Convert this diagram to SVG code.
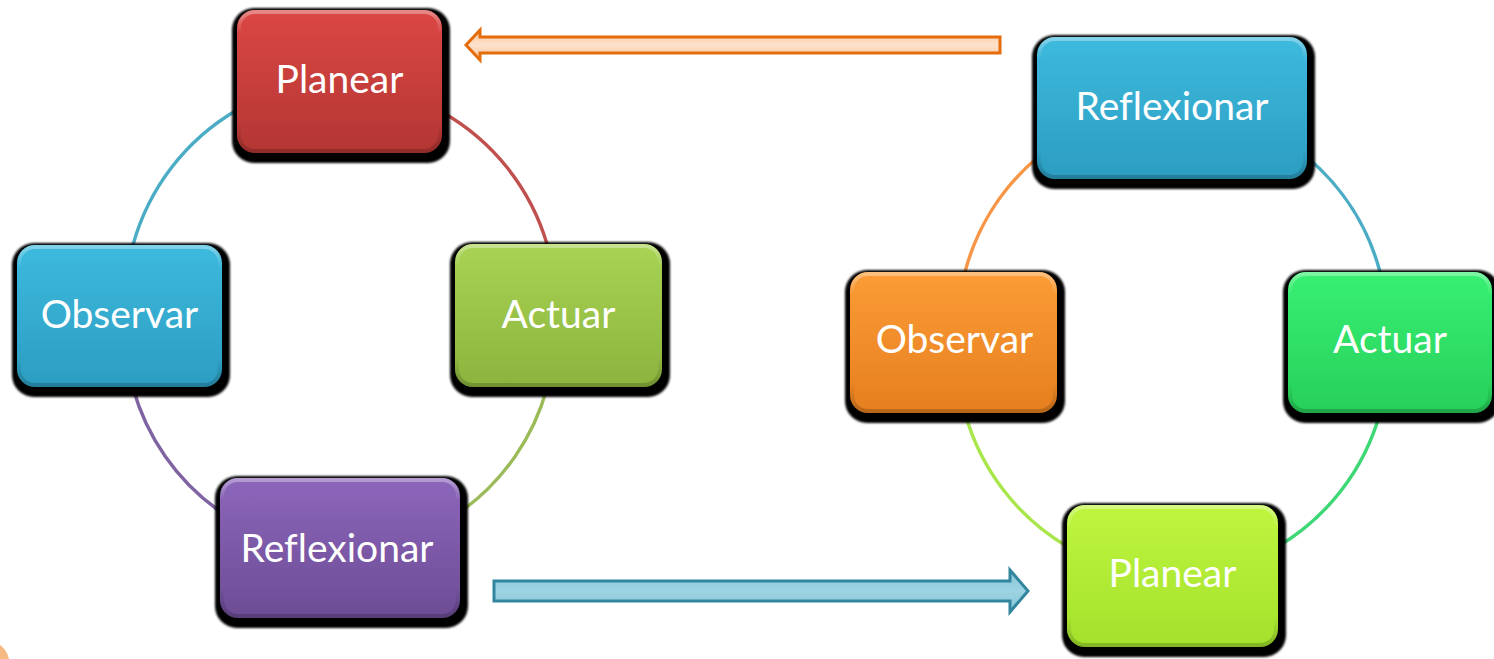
<svg xmlns="http://www.w3.org/2000/svg" width="1494" height="659" viewBox="0 0 1494 659">
<style>
.nt{font-family:Lato,"Open Sans","Liberation Sans",sans-serif;font-size:39px;fill:#ffffff;text-anchor:middle;font-variant-ligatures:none}
.sh{fill:#000000;filter:url(#bl)}
.bev{fill:none;stroke:url(#bevg);stroke-width:4}
.arc{fill:none;stroke-width:3.4;stroke-linecap:round}
</style>
<defs>
<filter id="bl" x="-10%" y="-10%" width="120%" height="120%"><feGaussianBlur stdDeviation="1.2"/></filter>
<linearGradient id="bevg" x1="0" y1="0" x2="0" y2="1">
<stop offset="0" stop-color="#fff" stop-opacity="0.35"/>
<stop offset="0.15" stop-color="#fff" stop-opacity="0"/>
<stop offset="0.8" stop-color="#000" stop-opacity="0"/>
<stop offset="1" stop-color="#000" stop-opacity="0.2"/>
</linearGradient>
<linearGradient id="gRed" x1="0" y1="0" x2="0" y2="1"><stop offset="0" stop-color="#db4744"/><stop offset="1" stop-color="#b33633"/></linearGradient>
<linearGradient id="gBlue" x1="0" y1="0" x2="0" y2="1"><stop offset="0" stop-color="#3dbade"/><stop offset="1" stop-color="#2c9dc1"/></linearGradient>
<linearGradient id="gGreen" x1="0" y1="0" x2="0" y2="1"><stop offset="0" stop-color="#a8d353"/><stop offset="1" stop-color="#8cb43e"/></linearGradient>
<linearGradient id="gPurple" x1="0" y1="0" x2="0" y2="1"><stop offset="0" stop-color="#8c66bb"/><stop offset="1" stop-color="#6d4c95"/></linearGradient>
<linearGradient id="gOrange" x1="0" y1="0" x2="0" y2="1"><stop offset="0" stop-color="#fb9c36"/><stop offset="1" stop-color="#e67f1f"/></linearGradient>
<linearGradient id="gMint" x1="0" y1="0" x2="0" y2="1"><stop offset="0" stop-color="#38f073"/><stop offset="1" stop-color="#27cf5a"/></linearGradient>
<linearGradient id="gLime" x1="0" y1="0" x2="0" y2="1"><stop offset="0" stop-color="#bff53f"/><stop offset="1" stop-color="#a4e12c"/></linearGradient>
<linearGradient id="gPeach" x1="0" y1="0" x2="0" y2="1"><stop offset="0" stop-color="#f9c49a"/><stop offset="0.5" stop-color="#fde2cc"/><stop offset="1" stop-color="#f9c49a"/></linearGradient>
<linearGradient id="gSky" x1="0" y1="0" x2="0" y2="1"><stop offset="0" stop-color="#86c6d8"/><stop offset="0.5" stop-color="#9dd3e2"/><stop offset="1" stop-color="#86c6d8"/></linearGradient>
</defs>

<g id="connectors">
<path class="arc" stroke="#4bacc6" d="M133,245 A225,225 0 0 1 237,110"/>
<path class="arc" stroke="#c0504d" d="M442,112 A225,225 0 0 1 547,244"/>
<path class="arc" stroke="#9bbb59" d="M547,388 A225,225 0 0 1 463,510"/>
<path class="arc" stroke="#8064a2" d="M218,510 A225,225 0 0 1 133,388"/>
<path class="arc" stroke="#f79646" d="M965,272 A225,225 0 0 1 1037,158"/>
<path class="arc" stroke="#4bacc6" d="M1308,158 A225,225 0 0 1 1380,272"/>
<path class="arc" stroke="#3ed775" d="M1380,413 A225,225 0 0 1 1277,547"/>
<path class="arc" stroke="#a9e64b" d="M1068,547 A225,225 0 0 1 965,413"/>
<polygon points="466,45 480,30 480,37 1000,37 1000,53 480,53 480,60" fill="url(#gPeach)" stroke="#e46c0a" stroke-width="3" stroke-linejoin="miter"/>
<polygon points="494,581 1010,581 1010,570 1028,591 1010,612 1010,601 494,601" fill="url(#gSky)" stroke="#31859c" stroke-width="3" stroke-linejoin="miter"/>
</g>

<path d="M0,645 Q7,650 9,659 L0,659 Z" fill="#f28a30" opacity="0.6"/>

<g id="planear-left">
<rect class="sh" x="232" y="8" width="218" height="155" rx="22"/>
<rect x="237" y="10" width="205" height="143" rx="18" fill="url(#gRed)"/>
<rect class="bev" x="239" y="12" width="201" height="139" rx="16"/>
<text class="nt" x="339.5" y="93">Planear</text>
</g>

<g id="observar-left">
<rect class="sh" x="12" y="243" width="218" height="154" rx="22"/>
<rect x="17" y="245" width="205" height="142" rx="18" fill="url(#gBlue)"/>
<rect class="bev" x="19" y="247" width="201" height="138" rx="16"/>
<text class="nt" x="119.5" y="328">Observar</text>
</g>

<g id="actuar-left">
<rect class="sh" x="450" y="242" width="220" height="155" rx="22"/>
<rect x="455" y="244" width="207" height="143" rx="18" fill="url(#gGreen)"/>
<rect class="bev" x="457" y="246" width="203" height="139" rx="16"/>
<text class="nt" x="558.5" y="328">Actuar</text>
</g>

<g id="reflexionar-left">
<rect class="sh" x="215" y="476" width="253" height="152" rx="22"/>
<rect x="220" y="478" width="240" height="140" rx="18" fill="url(#gPurple)"/>
<rect class="bev" x="222" y="480" width="236" height="136" rx="16"/>
<text class="nt" x="337" y="562">Reflexionar</text>
</g>

<g id="reflexionar-right">
<rect class="sh" x="1032" y="35" width="283" height="154" rx="22"/>
<rect x="1037" y="37" width="270" height="142" rx="18" fill="url(#gBlue)"/>
<rect class="bev" x="1039" y="39" width="266" height="138" rx="16"/>
<text class="nt" x="1172" y="120">Reflexionar</text>
</g>

<g id="observar-right">
<rect class="sh" x="845" y="270" width="220" height="153" rx="22"/>
<rect x="850" y="272" width="207" height="141" rx="18" fill="url(#gOrange)"/>
<rect class="bev" x="852" y="274" width="203" height="137" rx="16"/>
<text class="nt" x="954.5" y="353">Observar</text>
</g>

<g id="actuar-right">
<rect class="sh" x="1283" y="270" width="217" height="153" rx="22"/>
<rect x="1288" y="272" width="204" height="141" rx="18" fill="url(#gMint)"/>
<rect class="bev" x="1290" y="274" width="200" height="137" rx="16"/>
<text class="nt" x="1390" y="353">Actuar</text>
</g>

<g id="planear-right">
<rect class="sh" x="1062" y="503" width="224" height="154" rx="22"/>
<rect x="1067" y="505" width="211" height="142" rx="18" fill="url(#gLime)"/>
<rect class="bev" x="1069" y="507" width="207" height="138" rx="16"/>
<text class="nt" x="1172.5" y="587">Planear</text>
</g>
</svg>
